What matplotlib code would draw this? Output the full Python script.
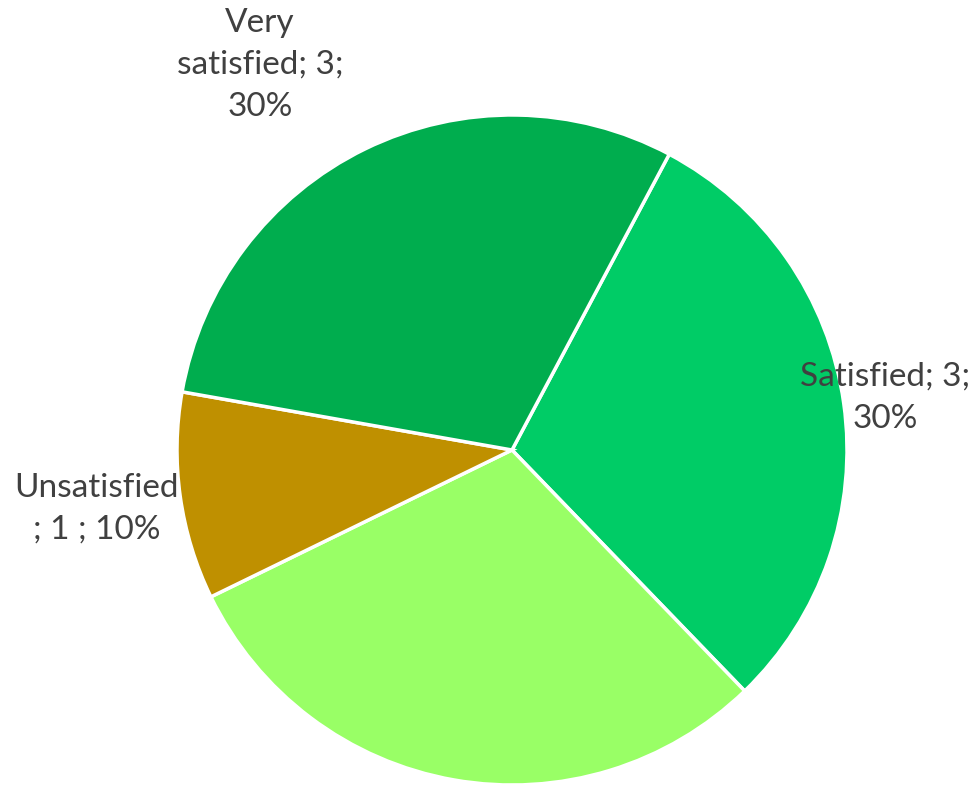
import matplotlib
matplotlib.use("Agg")
import matplotlib.pyplot as plt

categories = ["Satisfied", "Neutral", "Unsatisfied", "Very satisfied"]
values = [3, 3, 1, 3]
percents = ["30%", "30%", "10%", "30%"]
colors = ["#00CC66", "#99FF66", "#BF9000", "#00AD4E"]
label_texts = ["Satisfied; 3;\n30%", "", "Unsatisfied\n; 1 ; 10%", "Very\nsatisfied; 3;\n30%"]

W, H = 979, 785
fig = plt.figure(figsize=(W / 100, H / 100), dpi=100)
ax = fig.add_axes([0, 0, 1, 1])

cx, cy, r = 512, H - 450, 335
ax.pie(values, colors=colors, startangle=62, counterclock=False,
       center=(cx, cy), radius=r, frame=True,
       wedgeprops=dict(edgecolor="white", linewidth=2.5))
ax.set_xlim(0, W)
ax.set_ylim(0, H)
ax.axis("off")

label_pos = [(885, H - 398), None, (97, H - 509), (260, H - 65)]
for txt, pos in zip(label_texts, label_pos):
    if pos is None or not txt:
        continue
    ax.text(pos[0], pos[1], txt, ha="center", va="center", fontsize=24,
            color="#404040", family="Lato", linespacing=1.5)

fig.savefig("out.png", dpi=100)
